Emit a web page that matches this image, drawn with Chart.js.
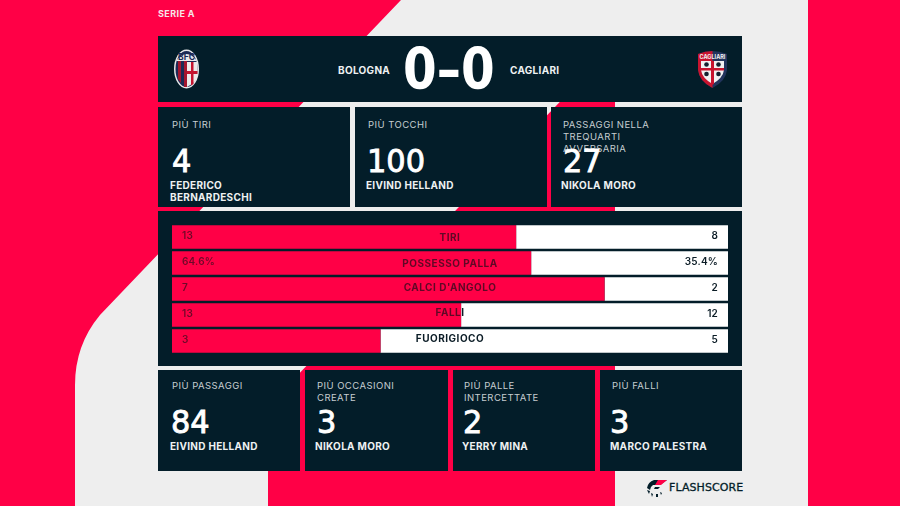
<!DOCTYPE html>
<html>
<head>
<meta charset="utf-8">
<title>Bologna - Cagliari</title>
<script src="https://cdn.jsdelivr.net/npm/chart.js@4"></script>
<style>
  html, body { margin: 0; padding: 0; }
  #page { position: relative; width: 900px; height: 506px; overflow: hidden; background: #eeeeee; font-family: Inter, sans-serif; }
  #bg { position: absolute; left: 0; top: 0; }
  .card { position: absolute; background: #031d29; }
  .t { position: absolute; white-space: nowrap; }
  .title { color: #c6cdd1; font-size: 9.5px; line-height: 12px; letter-spacing: 0.45px; margin-top: 1px; }
  .num { color: #fff; font-family: "DejaVu Sans", sans-serif; font-size: 32px; line-height: 32px; -webkit-text-stroke: 0.9px #fff; transform-origin: 0 0; transform: scaleX(0.95); }
  .name { color: #eef1f2; font-size: 10px; line-height: 11.5px; font-weight: 700; letter-spacing: 0.3px; }
  .team { color: #eef1f2; font-size: 10px; line-height: 12px; font-weight: 700; letter-spacing: 0.3px; }
  #score { color: #fff; font-family: "DejaVu Sans", sans-serif; font-weight: 700; font-size: 57px; line-height: 60px; transform-origin: 0 0; transform: scaleX(0.85); left: 403px; top: 39px; }
  #chartBox { position: absolute; left: 172px; top: 224px; width: 556px; height: 130px; }
</style>
</head>
<body>
<div id="page">
  <svg id="bg" width="900" height="506">
    <rect x="808" y="0" width="92" height="506" fill="#ff0046"/>
    <path d="M0 0H401L100 315Q75 345 75 385V506H0Z" fill="#ff0046"/>
    <path d="M615 60V506H268V406L600 60Z" fill="#ff0046"/>
  </svg>

  <div class="t" style="left:158px;top:8px;color:#f6e4e8;font-size:9px;line-height:11px;font-weight:700;letter-spacing:.4px">SERIE A</div>

  <div class="card" style="left:158px;top:36px;width:584px;height:66px"></div>
  <div class="t team" style="left:338px;top:64px">BOLOGNA</div>
  <div class="t" id="score">0–0</div>
  <div class="t team" style="left:510px;top:64px">CAGLIARI</div>

  <!-- club crests -->
  <svg style="position:absolute;left:173px;top:49px" width="27" height="40" viewBox="0 0 27 40">
    <ellipse cx="13.5" cy="20" rx="12.5" ry="19.5" fill="#e8e8ea"/>
    <ellipse cx="13.5" cy="20" rx="11" ry="18" fill="#1c2a55"/>
    <path d="M5 12h3v22l-3-4zM11 12h3v26h-3z" fill="#a3162f"/>
    <path d="M14 13H24.5V27Q24 33 14 38Z" fill="#eceaea"/>
    <path d="M18 13h2.500V35l-2.500 1.500zM14 22H24.500V25H14z" fill="#c4142f"/>
    <path d="M3 12Q13.500 -2 24 12Z" fill="#e8e8ea"/>
    <text x="13.500" y="10.500" text-anchor="middle" font-family="Inter" font-weight="700" font-size="8.500" fill="#1c2a55">BFC</text>
  </svg>
  <svg style="position:absolute;left:696px;top:49px" width="33" height="40" viewBox="0 0 33 40">
    <path d="M2 5Q16 -1 31 5V21Q30 32 16.500 39Q3 32 2 21Z" fill="#22345c"/>
    <path d="M2 5Q9 2 16.500 2V39Q3 32 2 21Z" fill="#c8142f"/>
    <path d="M5 12H28V21Q27 29 16.500 35Q6 29 5 21Z" fill="#f2f2f2"/>
    <path d="M15 12h3v23l-1.500 .8-1.500-.8zM5 19H28V21.500H5z" fill="#c8142f"/>
    <circle cx="10.500" cy="15.500" r="2.300" fill="#152030"/><circle cx="22.500" cy="15.500" r="2.300" fill="#152030"/>
    <circle cx="10.500" cy="25" r="2.300" fill="#152030"/><circle cx="22.500" cy="25" r="2.300" fill="#152030"/>
    <text x="16.500" y="9.800" text-anchor="middle" font-family="Inter" font-weight="700" font-size="5.500" fill="#f2f2f2">CAGLIARI</text>
  </svg>

  <!-- top row -->
  <div class="card" style="left:158px;top:107px;width:192px;height:100px"></div>
  <div class="t title" style="left:172px;top:118px">PIÙ TIRI</div>
  <div class="t num" style="left:172px;top:145px">4</div>
  <div class="t name" style="left:170px;top:180px">FEDERICO<br>BERNARDESCHI</div>

  <div class="card" style="left:355px;top:107px;width:192px;height:100px"></div>
  <div class="t title" style="left:368px;top:118px">PIÙ TOCCHI</div>
  <div class="t num" style="left:367px;top:145px">100</div>
  <div class="t name" style="left:366px;top:180px">EIVIND HELLAND</div>

  <div class="card" style="left:551px;top:107px;width:191px;height:100px"></div>
  <div class="t title" style="left:563px;top:118px">PASSAGGI NELLA<br>TREQUARTI<br>AVVERSARIA</div>
  <div class="t num" style="left:563px;top:145px">27</div>
  <div class="t name" style="left:561px;top:180px">NIKOLA MORO</div>

  <!-- stats panel -->
  <div class="card" style="left:158px;top:211px;width:584px;height:155px"></div>
  <div id="chartBox"><canvas id="statsChart"></canvas></div>

  <!-- bottom row -->
  <div class="card" style="left:158px;top:370px;width:142px;height:101px"></div>
  <div class="t title" style="left:172px;top:379px">PIÙ PASSAGGI</div>
  <div class="t num" style="left:171px;top:406px">84</div>
  <div class="t name" style="left:170px;top:441px">EIVIND HELLAND</div>

  <div class="card" style="left:305px;top:370px;width:143px;height:101px"></div>
  <div class="t title" style="left:317px;top:379px">PIÙ OCCASIONI<br>CREATE</div>
  <div class="t num" style="left:317px;top:406px">3</div>
  <div class="t name" style="left:315px;top:441px">NIKOLA MORO</div>

  <div class="card" style="left:453px;top:370px;width:142px;height:101px"></div>
  <div class="t title" style="left:464px;top:379px">PIÙ PALLE<br>INTERCETTATE</div>
  <div class="t num" style="left:463px;top:406px">2</div>
  <div class="t name" style="left:462px;top:441px">YERRY MINA</div>

  <div class="card" style="left:600px;top:370px;width:142px;height:101px"></div>
  <div class="t title" style="left:612px;top:379px">PIÙ FALLI</div>
  <div class="t num" style="left:610px;top:406px">3</div>
  <div class="t name" style="left:610px;top:441px">MARCO PALESTRA</div>

  <!-- flashscore mark -->
  <svg style="position:absolute;left:646px;top:479px" width="22" height="18" viewBox="0 0 22 18">
    <path d="M8 1H21L14 6H7Q4 8 4 11L1 9Q2 3 8 1Z" fill="#031d29"/>
    <path d="M12 1H21L15 6H9Z" fill="#ff0046"/>
    <path d="M1 11l3 1-1 3zM5 14l2 1-1 3zM10 15h2v3h-2zM14 13l2 1-1 2zM9 8h5l-2 2H8z" fill="#031d29"/>
  </svg>
  <div class="t" style="left:669px;top:481px;color:#031d29;font-family:'DejaVu Sans',sans-serif;font-size:11px;line-height:14px;letter-spacing:.1px;-webkit-text-stroke:.3px #031d29">FLASHSCORE</div>
</div>

<script>
  // Match stats
  const categories = ['TIRI', 'POSSESSO PALLA', "CALCI D'ANGOLO", 'FALLI', 'FUORIGIOCO'];
  const homeLabels = ['13', '64.6%', '7', '13', '3'];
  const awayLabels = ['8', '35.4%', '2', '12', '5'];
  const homeShare = [61.9, 64.6, 77.8, 52, 37.5];
  const awayShare = [38.1, 35.4, 22.2, 48, 62.5];

  // Labels sit a little off the bar centre in the original
  const catNudge = [1, 1, -1, -2, -2];
  const RED = '#ff0046';
  const DARK_ON_RED = '#600826';
  const DARK_ON_RED_SOFT = '#6e0929';
  const DARK = '#0b1c26';

  // Draw a text twice, clipped, so it changes colour where it crosses the bar end
  function splitText(ctx, text, x, y, edge, area, onRed, onWhite) {
    ctx.save();
    ctx.beginPath();
    ctx.rect(area.left, area.top, edge - area.left, area.bottom - area.top);
    ctx.clip();
    ctx.fillStyle = onRed;
    ctx.fillText(text, x, y);
    ctx.restore();
    ctx.save();
    ctx.beginPath();
    ctx.rect(edge, area.top, area.right - edge, area.bottom - area.top);
    ctx.clip();
    ctx.fillStyle = onWhite;
    ctx.fillText(text, x, y);
    ctx.restore();
  }

  const statLabels = {
    id: 'statLabels',
    afterDatasetsDraw(chart) {
      const ctx = chart.ctx;
      const area = chart.chartArea;
      const bars = chart.getDatasetMeta(0).data;
      ctx.save();
      ctx.textBaseline = 'middle';
      bars.forEach((bar, i) => {
        ctx.textAlign = 'left';
        ctx.letterSpacing = '0.2px';
        ctx.font = '600 10px Inter';
        ctx.fillStyle = DARK_ON_RED_SOFT;
        ctx.fillText(homeLabels[i], area.left + 10, bar.y - 1);

        ctx.textAlign = 'right';
        ctx.fillStyle = DARK;
        ctx.fillText(awayLabels[i], area.right - 10, bar.y - 1);

        ctx.textAlign = 'center';
        ctx.letterSpacing = '0.5px';
        ctx.font = '700 10px Inter';
        splitText(ctx, categories[i], area.left + 278, bar.y + catNudge[i], bar.x, area, DARK_ON_RED, DARK);
      });
      ctx.restore();
    }
  };

  new Chart(document.getElementById('statsChart').getContext('2d'), {
    type: 'bar',
    data: {
      labels: categories,
      datasets: [
        { label: 'Bologna', data: homeShare, backgroundColor: RED, borderWidth: 0, barPercentage: 0.9, categoryPercentage: 1 },
        { label: 'Cagliari', data: awayShare, backgroundColor: '#ffffff', borderWidth: 0, barPercentage: 0.9, categoryPercentage: 1 }
      ]
    },
    options: {
      indexAxis: 'y',
      responsive: true,
      maintainAspectRatio: false,
      animation: false,
      layout: { padding: 0 },
      plugins: { legend: { display: false }, tooltip: { enabled: false } },
      scales: {
        x: { stacked: true, min: 0, max: 100, display: false },
        y: { stacked: true, display: false }
      }
    },
    plugins: [statLabels]
  });
</script>
</body>
</html>
